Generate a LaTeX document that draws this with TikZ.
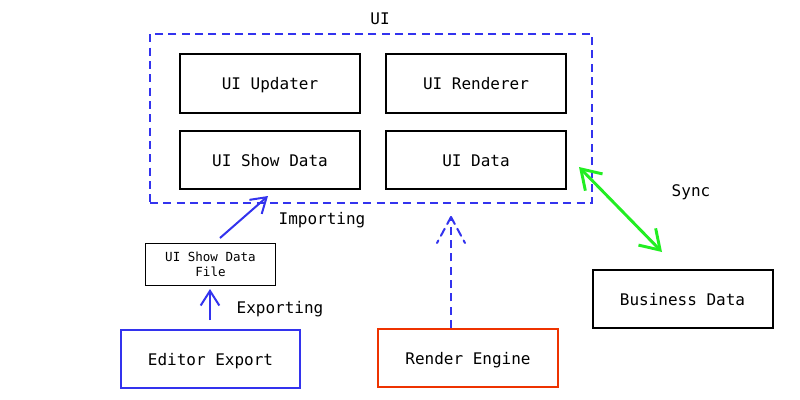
\documentclass[tikz,border=0pt]{standalone}
\usepackage{fontspec}
\setmonofont{DejaVu Sans Mono}
\usetikzlibrary{arrows.meta}
\definecolor{dblue}{HTML}{3333EE}
\definecolor{sgreen}{HTML}{22EE22}
\definecolor{rorange}{HTML}{EE3300}
\tikzset{
  box/.style={draw=black, line width=1.5pt, minimum width=135pt, minimum height=44pt, inner sep=0pt, text height=11.5pt, text depth=2.5pt, font=\ttfamily\fontsize{12}{14}\selectfont},
  lbl/.style={font=\ttfamily\fontsize{12}{14}\selectfont, inner sep=0pt, text height=9.5pt, text depth=2.5pt},
  barb/.style={-{Straight Barb[length=11pt,width=14pt]}},
}
\begin{document}
\begin{tikzpicture}[x=0.75pt,y=-0.75pt]
\useasboundingbox (0,0) rectangle (800,400);
\fill[white] (0,0) rectangle (800,400);
\node[draw=dblue, line width=1.5pt, dashed, dash pattern=on 6pt off 4pt, minimum width=331.5pt, minimum height=126.75pt, inner sep=0pt] (ui) at (371,118.5) {};
\node[lbl] (uilbl) at (380,19.5) {UI};
\node[box] (upd) at (270,83.5) {UI Updater};
\node[box] (ren) at (476,83.5) {UI Renderer};
\node[box] (show) at (270,160) {UI Show Data};
\node[box] (data) at (476,160) {UI Data};
\node[draw=black, line width=0.6pt, minimum width=98pt, minimum height=31.5pt, inner sep=0pt, align=center, font=\ttfamily\fontsize{9.4}{11}\selectfont] (file) at (210.5,264.5) {UI Show Data\\File};
\node[box, draw=dblue, minimum width=134pt] (edit) at (210.5,359) {Editor Export};
\node[box, draw=rorange] (rend) at (468,358) {Render Engine};
\node[box] (biz) at (682.5,299) {Business Data};
\coordinate (ex0) at (210,320);
\coordinate (ex1) at (210,289);
\draw[barb, draw=dblue, line width=1.5pt] (ex0) -- (ex1);
\node[lbl] (exl) at (280,308.5) {Exporting};
\coordinate (im0) at (220,238);
\coordinate (im1) at (268,196);
\draw[barb, draw=dblue, line width=1.5pt] (im0) -- (im1);
\node[lbl] (iml) at (322,219.5) {Importing};
\coordinate (re0) at (451,328);
\coordinate (re1) at (451,217);
\draw[draw=dblue, line width=1.5pt, dash pattern=on 6pt off 4pt] (re0) -- (re1);
\draw[draw=dblue, line width=1.5pt, dash pattern=on 6pt off 4pt, line cap=round] (re1) -- ++(-14,26);
\draw[draw=dblue, line width=1.5pt, dash pattern=on 6pt off 4pt, line cap=round] (re1) -- ++(14,26);
\coordinate (sy0) at (579,167);
\coordinate (sy1) at (662,252);
\draw[{Straight Barb[length=14pt,width=18pt]}-{Straight Barb[length=14pt,width=18pt]}, draw=sgreen, line width=2.2pt] (sy0) -- (sy1);
\node[lbl] (syl) at (691,191.5) {Sync};
\end{tikzpicture}
\end{document}
